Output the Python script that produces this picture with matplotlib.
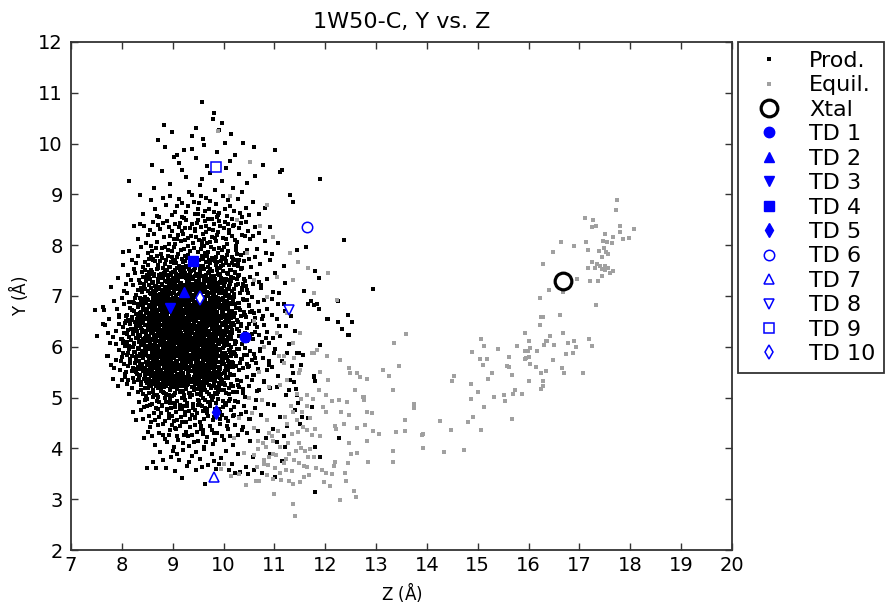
import numpy as np
import matplotlib
matplotlib.use("Agg")
import matplotlib.pyplot as plt

# ---------------- data ----------------
title = "1W50-C, Y vs. Z"
x_label = r"Z ($\AA$)"
y_label = r"Y ($\AA$)"
x_ticks = list(range(7, 21))
y_ticks = list(range(2, 13))

# Production frames (z, y) -- dense cloud, estimated point by point
PROD_POINTS = """
9.12,9.62 9.45,9.71 9.68,9.55 9.88,9.83 10.12,9.66 10.31,9.41 9.27,9.34 9.53,9.18 9.74,9.42 9.96,9.27
10.18,9.12 10.47,9.22 8.95,9.21 8.78,9.46 9.38,9.89 9.61,9.97 10.05,9.51 10.22,9.78 9.02,9.74 8.64,9.13
9.83,9.08 10.36,9.05 9.33,9.05 9.58,9.31 9.19,9.49 10.62,9.36 10.78,9.58 9.91,10.27 9.46,10.31 8.98,10.22 10.15,10.19
8.42,8.62 8.57,8.88 8.73,8.55 8.86,8.79 8.94,8.97 9.05,8.66 9.13,8.91 9.22,8.53 9.31,8.77 9.38,8.99
9.44,8.61 9.52,8.84 9.59,8.58 9.66,8.93 9.71,8.71 9.78,8.52 9.85,8.82 9.92,8.64 9.99,8.96 10.06,8.57
10.13,8.78 10.21,8.68 10.29,8.91 10.37,8.55 10.45,8.73 10.58,8.86 10.69,8.62 10.81,8.74 8.66,8.71 8.99,8.59
9.18,8.83 9.27,8.65 9.49,8.72 9.63,8.68 9.74,8.87 9.88,8.55 10.02,8.71 10.17,8.51 10.33,8.64 9.09,8.78
9.41,8.86 9.56,8.97 9.81,8.66 10.09,8.89 8.81,8.93 10.51,8.59
8.31,8.12 8.44,8.38 8.52,8.21 8.61,8.45 8.69,8.06 8.76,8.32 8.83,8.17 8.88,8.47 8.93,8.02 8.98,8.28
9.04,8.41 9.08,8.13 9.12,8.36 9.17,8.08 9.21,8.23 9.26,8.49 9.3,8.15 9.34,8.33 9.39,8.04 9.43,8.27
9.47,8.44 9.51,8.11 9.55,8.36 9.6,8.22 9.64,8.47 9.68,8.05 9.72,8.31 9.77,8.17 9.81,8.42 9.85,8.09
9.9,8.26 9.94,8.38 9.98,8.14 10.03,8.45 10.07,8.03 10.11,8.29 10.16,8.18 10.21,8.4 10.26,8.07 10.31,8.33
10.37,8.21 10.44,8.46 10.52,8.12 10.61,8.35 10.7,8.24 10.82,8.08 8.72,8.39 8.95,8.19 9.15,8.44 9.36,8.19
9.58,8.01 9.79,8.29 10.0,8.34 10.23,8.11 10.48,8.28 9.02,8.12 9.24,8.34 9.45,8.16 9.66,8.38 9.87,8.2
10.09,8.42 8.56,8.29 8.81,8.44 9.19,8.27 9.62,8.13 9.92,8.48 10.34,8.43 10.58,8.19 8.36,8.41 9.49,8.49 9.73,8.06
8.02,7.62 8.14,7.88 8.23,7.54 8.31,7.79 8.38,7.97 8.45,7.66 8.51,7.85 8.57,7.52 8.62,7.73 8.67,7.94
8.72,7.61 8.77,7.82 8.81,7.55 8.86,7.71 8.9,7.91 8.94,7.58 8.98,7.77 9.02,7.96 9.06,7.64 9.1,7.83
9.14,7.51 9.18,7.72 9.22,7.93 9.26,7.6 9.3,7.81 9.33,7.53 9.37,7.74 9.41,7.95 9.45,7.63 9.49,7.86
9.53,7.57 9.57,7.78 9.61,7.99 9.65,7.66 9.69,7.87 9.73,7.54 9.77,7.75 9.81,7.92 9.85,7.61 9.89,7.84
9.93,7.56 9.97,7.76 10.01,7.97 10.05,7.65 10.09,7.88 10.14,7.52 10.19,7.73 10.24,7.91 10.29,7.59 10.34,7.8
10.4,7.68 10.47,7.9 10.54,7.57 10.62,7.76 10.71,7.63 10.83,7.85 10.92,7.71 8.19,7.71 8.41,7.57 8.59,7.89
8.75,7.69 8.88,7.52 8.99,7.88 9.08,7.56 9.16,7.9 9.24,7.69 9.35,7.88 9.43,7.55 9.51,7.71 9.59,7.6
9.67,7.79 9.75,7.97 9.83,7.68 9.91,7.95 9.99,7.62 10.07,7.81 10.16,7.64 10.27,7.83 10.37,7.55 10.5,7.72
10.66,7.93 8.53,7.72 8.69,7.78 8.84,7.96 9.04,7.7 9.2,7.57 9.39,7.65 9.55,7.93 9.71,7.7 9.87,7.53
10.03,7.73 10.21,7.62 10.43,7.84 8.28,7.64 8.96,7.67 9.28,7.74 9.63,7.84 9.95,7.69 10.31,7.7
7.78,7.18 7.92,7.36 8.05,7.09 8.13,7.42 8.21,7.22 8.28,7.01 8.34,7.31 8.4,7.47 8.45,7.13 8.5,7.38
8.55,7.05 8.59,7.26 8.63,7.44 8.67,7.11 8.71,7.33 8.75,7.02 8.79,7.21 8.83,7.46 8.87,7.14 8.91,7.37
8.94,7.06 8.98,7.27 9.01,7.48 9.05,7.16 9.08,7.39 9.12,7.03 9.15,7.24 9.19,7.43 9.22,7.12 9.26,7.35
9.29,7.07 9.33,7.28 9.36,7.49 9.4,7.17 9.43,7.4 9.47,7.04 9.5,7.23 9.54,7.45 9.57,7.13 9.61,7.32
9.64,7.08 9.68,7.29 9.71,7.47 9.75,7.15 9.78,7.36 9.82,7.02 9.85,7.25 9.89,7.44 9.92,7.11 9.96,7.34
9.99,7.06 10.03,7.27 10.07,7.46 10.11,7.14 10.15,7.38 10.2,7.03 10.25,7.22 10.3,7.41 10.36,7.12 10.42,7.3
10.49,7.05 10.57,7.24 10.65,7.43 10.74,7.15 10.86,7.33 10.97,7.08 8.18,7.31 8.37,7.16 8.48,7.29 8.57,7.44
8.65,7.19 8.73,7.41 8.81,7.08 8.89,7.27 8.96,7.41 9.03,7.09 9.1,7.3 9.17,7.17 9.24,7.45 9.31,7.19
9.38,7.33 9.45,7.1 9.52,7.37 9.59,7.2 9.66,7.42 9.73,7.06 9.8,7.27 9.87,7.16 9.94,7.43 10.01,7.19
10.09,7.31 10.17,7.09 10.27,7.34 10.38,7.23 10.52,7.37 10.69,7.28 8.43,7.24 8.61,7.07 8.77,7.35 8.92,7.21
9.06,7.33 9.2,7.06 9.34,7.39 9.48,7.28 9.62,7.15 9.76,7.39 9.9,7.22 10.05,7.1 10.22,7.45 10.45,7.19
8.25,7.45 8.53,7.48 8.85,7.29 9.14,7.41 9.41,7.22 9.69,7.34 9.97,7.25 10.33,7.06 8.08,7.24 9.55,7.01 9.28,7.21 10.12,7.24
7.62,6.78 7.74,6.55 7.85,6.91 7.95,6.63 8.04,6.84 8.12,6.52 8.19,6.73 8.26,6.96 8.32,6.6 8.37,6.82
8.42,6.51 8.47,6.69 8.52,6.92 8.56,6.57 8.6,6.77 8.64,6.98 8.68,6.62 8.72,6.86 8.76,6.54 8.8,6.74
8.84,6.95 8.88,6.59 8.92,6.8 8.96,6.53 9.0,6.71 9.04,6.93 9.07,6.61 9.11,6.83 9.15,6.5 9.19,6.68
9.22,6.89 9.26,6.56 9.3,6.76 9.33,6.97 9.37,6.63 9.41,6.85 9.44,6.52 9.48,6.72 9.52,6.94 9.55,6.58
9.59,6.79 9.63,6.99 9.66,6.64 9.7,6.87 9.74,6.55 9.77,6.75 9.81,6.96 9.85,6.6 9.88,6.81 9.92,6.51
9.96,6.7 10.0,6.91 10.04,6.57 10.08,6.78 10.12,6.99 10.17,6.63 10.22,6.84 10.27,6.53 10.32,6.73 10.38,6.94
10.44,6.58 10.51,6.8 10.59,6.66 10.67,6.89 10.76,6.54 10.85,6.75 10.96,6.62 11.08,6.84 11.21,6.71 7.9,6.74
8.09,6.61 8.23,6.86 8.35,6.67 8.45,6.88 8.54,6.65 8.62,6.9 8.7,6.71 8.78,6.93 8.86,6.68 8.94,6.87
9.02,6.57 9.09,6.74 9.17,6.94 9.24,6.66 9.32,6.88 9.39,6.56 9.46,6.83 9.53,6.62 9.61,6.86 9.68,6.59
9.75,6.9 9.83,6.69 9.9,6.94 9.98,6.62 10.06,6.85 10.14,6.56 10.24,6.77 10.35,6.6 10.47,6.92 10.62,6.57
10.8,6.93 8.15,6.89 8.4,6.58 8.58,6.82 8.74,6.63 8.9,6.73 9.05,6.81 9.2,6.6 9.35,6.7 9.5,6.86
9.65,6.77 9.8,6.63 9.95,6.83 10.1,6.69 10.3,6.87 10.55,6.71 8.29,6.55 8.5,6.75 8.66,6.53 8.82,6.85
8.98,6.64 9.13,6.9 9.28,6.51 9.43,6.66 9.57,6.91 9.72,6.68 9.87,6.54 10.02,6.77 10.19,6.91 10.41,6.68
8.01,6.97 8.44,6.95 9.1,6.55 9.6,6.52 10.2,6.59 10.7,6.7 9.38,6.8 9.76,6.84
7.52,6.21 7.66,6.43 7.77,6.08 7.88,6.32 7.98,6.15 8.06,6.47 8.14,6.02 8.21,6.26 8.28,6.39 8.34,6.11
8.39,6.33 8.44,6.05 8.49,6.22 8.53,6.45 8.57,6.13 8.61,6.36 8.65,6.01 8.69,6.24 8.73,6.48 8.77,6.09
8.81,6.31 8.85,6.17 8.89,6.42 8.93,6.04 8.97,6.27 9.01,6.38 9.05,6.12 9.09,6.34 9.13,6.06 9.16,6.23
9.2,6.46 9.24,6.1 9.28,6.3 9.32,6.03 9.35,6.25 9.39,6.41 9.43,6.14 9.47,6.37 9.51,6.07 9.55,6.28
9.58,6.49 9.62,6.16 9.66,6.35 9.7,6.02 9.74,6.21 9.78,6.44 9.82,6.11 9.86,6.33 9.9,6.08 9.94,6.26
9.98,6.47 10.02,6.13 10.06,6.36 10.1,6.04 10.15,6.22 10.2,6.43 10.25,6.1 10.31,6.32 10.37,6.06 10.43,6.27
10.5,6.44 10.58,6.15 10.66,6.38 10.75,6.09 10.86,6.29 10.98,6.18 11.1,6.4 7.72,6.28 7.94,6.45 8.1,6.25
8.24,6.08 8.36,6.44 8.46,6.29 8.55,6.07 8.63,6.19 8.71,6.38 8.79,6.22 8.87,6.05 8.95,6.44 9.03,6.22
9.11,6.43 9.18,6.14 9.26,6.38 9.34,6.18 9.41,6.04 9.49,6.26 9.57,6.09 9.64,6.43 9.72,6.3 9.8,6.05
9.88,6.45 9.96,6.19 10.04,6.41 10.13,6.27 10.22,6.06 10.34,6.4 10.47,6.11 10.62,6.3 10.8,6.42 8.02,6.11
8.31,6.2 8.51,6.34 8.67,6.12 8.83,6.46 8.99,6.15 9.14,6.29 9.3,6.45 9.45,6.23 9.6,6.33 9.76,6.14
9.92,6.39 10.08,6.2 10.28,6.48 10.53,6.24 8.18,6.36 8.42,6.16 8.59,6.41 8.75,6.03 8.91,6.2 9.07,6.47
9.22,6.01 9.37,6.32 9.53,6.17 9.68,6.4 9.84,6.24 10.0,6.07 10.17,6.33 10.4,6.21 10.7,6.24 7.83,6.19
8.26,6.49 8.48,6.02 9.0,6.3 9.42,6.48 9.85,6.01 10.11,6.48 10.9,6.08 9.25,6.2 9.65,6.25 9.47,6.14
9.12,6.17 9.78,6.36 9.35,6.35
7.71,5.82 7.84,5.58 7.95,5.93 8.05,5.66 8.13,5.87 8.2,5.52 8.27,5.74 8.33,5.96 8.39,5.61 8.44,5.83
8.49,5.55 8.54,5.77 8.58,5.99 8.62,5.64 8.66,5.86 8.7,5.51 8.74,5.71 8.78,5.92 8.82,5.59 8.86,5.8
8.9,5.53 8.94,5.73 8.98,5.95 9.02,5.62 9.06,5.84 9.1,5.57 9.14,5.76 9.18,5.98 9.22,5.65 9.26,5.88
9.3,5.54 9.34,5.72 9.38,5.94 9.42,5.6 9.46,5.81 9.5,5.5 9.54,5.69 9.58,5.91 9.62,5.58 9.66,5.79
9.7,5.97 9.74,5.63 9.78,5.85 9.82,5.56 9.86,5.75 9.9,5.96 9.94,5.61 9.98,5.82 10.03,5.53 10.08,5.72
10.13,5.93 10.18,5.6 10.24,5.81 10.3,5.54 10.36,5.76 10.43,5.97 10.51,5.63 10.59,5.86 10.68,5.57 10.78,5.78
10.9,5.65 11.0,5.88 7.89,5.74 8.09,5.51 8.24,5.9 8.36,5.67 8.47,5.93 8.56,5.6 8.64,5.8 8.72,5.62
8.8,5.96 8.88,5.68 8.96,5.85 9.04,5.54 9.12,5.89 9.2,5.7 9.28,5.98 9.36,5.63 9.44,5.88 9.52,5.66
9.6,5.84 9.68,5.55 9.76,5.89 9.84,5.7 9.92,5.52 10.0,5.87 10.1,5.64 10.21,5.89 10.33,5.69 10.47,5.84
10.64,5.69 10.85,5.55 8.0,5.8 8.3,5.57 8.52,5.71 8.68,5.97 8.84,5.66 9.0,5.79 9.16,5.51 9.32,5.83
9.48,5.74 9.64,5.93 9.8,5.63 9.96,5.74 10.15,5.81 10.39,5.58 10.72,5.92 8.17,5.69 8.41,5.89 8.6,5.53
8.76,5.84 8.92,5.63 9.08,5.93 9.24,5.58 9.4,5.77 9.56,5.52 9.72,5.74 9.88,5.91 10.05,5.6 10.27,5.95
10.55,5.74 7.78,5.65 8.34,5.82 9.06,5.7 9.55,5.62 10.19,5.69 9.33,5.61 9.7,5.68 9.1,5.65 9.85,5.93 9.45,5.96
7.93,5.22 8.06,5.41 8.15,5.08 8.23,5.3 8.3,5.47 8.37,5.14 8.43,5.36 8.48,5.03 8.53,5.25 8.58,5.44
8.62,5.11 8.67,5.33 8.71,5.01 8.75,5.2 8.79,5.42 8.83,5.09 8.87,5.29 8.91,5.48 8.95,5.16 8.99,5.38
9.03,5.05 9.07,5.24 9.11,5.45 9.15,5.13 9.19,5.34 9.23,5.02 9.27,5.21 9.31,5.43 9.35,5.1 9.39,5.31
9.43,5.49 9.47,5.17 9.51,5.37 9.55,5.06 9.59,5.26 9.63,5.46 9.67,5.12 9.71,5.35 9.75,5.04 9.79,5.23
9.83,5.41 9.87,5.08 9.91,5.28 9.95,5.47 10.0,5.15 10.05,5.39 10.1,5.07 10.15,5.27 10.21,5.45 10.27,5.12
10.34,5.33 10.42,5.02 10.5,5.22 10.59,5.44 10.69,5.14 10.8,5.3 10.92,5.19 8.11,5.26 8.34,5.39 8.51,5.18
8.64,5.4 8.77,5.13 8.89,5.35 9.01,5.2 9.13,5.47 9.25,5.27 9.37,5.05 9.49,5.29 9.61,5.19 9.73,5.44
9.85,5.18 9.97,5.33 10.12,5.46 10.3,5.2 10.55,5.35 8.2,5.18 8.45,5.46 8.69,5.24 8.93,5.06 9.17,5.28
9.41,5.19 9.65,5.36 9.89,5.11 10.18,5.22 10.46,5.41 8.57,5.31 8.81,5.27 9.05,5.42 9.29,5.33 9.53,5.23
9.77,5.49 10.02,5.24 10.38,5.1 8.0,5.34 9.21,5.13 9.57,5.14 9.93,5.39
8.22,4.72 8.33,4.91 8.42,4.58 8.5,4.83 8.57,4.51 8.63,4.69 8.69,4.94 8.74,4.62 8.79,4.85 8.84,4.53
8.89,4.75 8.94,4.97 8.99,4.64 9.04,4.88 9.09,4.55 9.14,4.77 9.19,4.99 9.24,4.66 9.29,4.9 9.34,4.57
9.39,4.79 9.44,4.6 9.49,4.86 9.54,4.52 9.59,4.73 9.64,4.95 9.69,4.63 9.74,4.87 9.79,4.56 9.84,4.78
9.9,4.98 9.96,4.65 10.02,4.89 10.08,4.54 10.15,4.76 10.23,4.94 10.31,4.61 10.4,4.84 10.5,4.57 10.61,4.79
10.74,4.66 10.88,4.87 8.38,4.75 8.6,4.88 8.77,4.7 8.92,4.59 9.07,4.71 9.22,4.84 9.37,4.66 9.52,4.93
9.67,4.78 9.82,4.62 9.98,4.82 10.18,4.64 10.45,4.72 8.28,4.56 8.54,4.64 8.71,4.78 8.87,4.92 9.02,4.53
9.17,4.61 9.32,4.74 9.47,4.69 9.62,4.58 9.77,4.96 9.93,4.72 10.1,4.93 10.35,4.68 8.46,4.95 8.97,4.8
9.27,4.51 9.57,4.84 10.05,4.6 10.63,4.95
8.43,4.21 8.55,4.42 8.65,4.07 8.73,4.31 8.81,4.48 8.88,4.13 8.95,4.36 9.02,4.02 9.08,4.24 9.14,4.45
9.2,4.11 9.26,4.33 9.32,4.05 9.38,4.27 9.44,4.47 9.5,4.15 9.56,4.38 9.62,4.03 9.68,4.22 9.74,4.44
9.8,4.09 9.87,4.3 9.94,4.49 10.01,4.17 10.09,4.39 10.18,4.06 10.28,4.26 10.39,4.43 10.52,4.14 10.68,4.34
10.84,4.2 8.6,4.25 8.84,4.18 9.05,4.41 9.23,4.26 9.41,4.12 9.59,4.29 9.77,4.36 9.97,4.24 10.22,4.46
10.47,4.3 8.71,4.46 9.11,4.17 9.47,4.33 9.83,4.16 10.13,4.25 8.92,4.26 9.35,4.42 9.65,4.12
8.62,3.74 8.75,3.92 8.86,3.61 8.96,3.83 9.05,3.55 9.13,3.77 9.21,3.96 9.29,3.66 9.37,3.86 9.45,3.58
9.53,3.79 9.61,3.98 9.69,3.68 9.77,3.89 9.86,3.6 9.95,3.81 10.05,3.95 10.16,3.7 10.29,3.88 10.44,3.64
10.58,3.84 8.81,3.78 9.09,3.89 9.33,3.74 9.57,3.63 9.81,3.76 10.1,3.57 9.0,3.95 9.45,3.92 9.92,3.69
9.58,10.81 9.82,10.61 9.79,10.48 9.96,10.40 8.83,10.37 8.72,10.08 9.37,10.15 9.59,10.10 10.03,10.02 10.38,10.02
10.60,9.94 11.01,9.87 8.85,9.93 9.22,9.87 9.09,9.77 8.59,9.58 8.14,9.27 8.36,8.99 8.23,8.38 8.03,7.87
11.90,9.30 12.37,8.10 12.93,7.13 7.47,6.72 7.64,6.72 7.62,6.44 7.72,5.82 7.83,5.36 7.97,5.54 8.49,3.62
8.67,3.61 9.19,3.42 9.64,3.30 11.88,7.35 11.80,7.49 12.24,6.92 12.44,6.63 12.53,6.48 12.45,6.23 12.32,6.36
12.05,6.54 11.90,6.04 11.78,6.82 11.66,6.84 11.41,6.32 11.23,6.40 11.58,7.09 11.77,5.43 11.44,5.87 11.63,7.97
11.45,7.91 11.31,8.99 11.37,8.86 11.14,9.49 11.11,9.45
11.72,6.90 11.83,6.84 11.87,6.74 12.26,6.91 12.26,6.48 12.04,6.55 12.46,6.24 11.90,6.03 11.78,5.41 11.80,5.33
11.73,4.82 11.67,4.59 11.80,4.03 11.90,3.84 12.27,4.20 11.80,3.15 11.56,5.84 11.52,5.64 11.49,5.87 11.42,5.17
11.44,5.06 11.37,5.49 11.29,5.15 11.39,5.31 11.46,4.90 11.50,4.49 11.55,4.62 11.18,4.24 11.21,4.03 10.75,3.51
10.49,3.50 10.32,3.54 10.22,3.51 10.59,3.58 11.01,3.44
10.95,6.95 11.05,6.55 11.12,6.22 11.02,5.95 11.15,5.72 11.08,5.42 11.22,5.05 11.0,4.85 11.12,4.62 10.98,4.38
11.25,4.45 11.05,4.12 10.92,3.88 11.15,3.75 11.32,6.6 11.28,6.05 11.35,5.62 11.25,5.88 11.1,7.05 11.02,7.45
11.2,7.25 10.95,7.82 11.08,8.05 10.92,8.35 11.18,7.6 11.3,5.35 11.4,4.75 11.05,5.2 10.96,5.6 11.18,6.85
8.52,7.61 8.58,7.77 8.66,7.68 8.71,7.56 8.79,7.74 8.84,7.63 8.9,7.79 8.93,7.58 9.0,7.7 9.03,7.64
9.09,7.76 9.13,7.59 9.2,7.66 9.25,7.78 9.27,7.57 9.34,7.7 9.38,7.62 9.44,7.75 9.48,7.67 9.53,7.6
9.6,7.72 9.63,7.79 9.7,7.58 9.74,7.65 9.79,7.71 9.85,7.77 9.88,7.66 9.95,7.59 10.0,7.74 10.04,7.68
10.1,7.61 10.17,7.77 10.22,7.7 10.28,7.64 8.62,7.71
8.41,7.37 8.46,7.51 8.49,7.42 8.56,7.33 8.6,7.48 8.64,7.39 8.69,7.53 8.72,7.31 8.77,7.44 8.8,7.37
8.85,7.5 8.88,7.41 8.92,7.32 8.97,7.46 9.0,7.36 9.04,7.52 9.06,7.43 9.11,7.34 9.16,7.49 9.18,7.38
9.23,7.54 9.27,7.41 9.3,7.32 9.35,7.47 9.39,7.37 9.42,7.51 9.46,7.44 9.51,7.3 9.53,7.49 9.58,7.4
9.62,7.53 9.65,7.35 9.7,7.45 9.73,7.31 9.77,7.5 9.81,7.4 9.84,7.34 9.88,7.52 9.91,7.42 9.95,7.36
9.99,7.49 10.04,7.33 10.08,7.44 10.13,7.52 10.18,7.36 10.23,7.47 10.29,7.39 10.35,7.54 10.4,7.33 8.53,7.41
8.31,7.12 8.36,7.26 8.4,7.08 8.44,7.19 8.47,7.29 8.51,7.1 8.54,7.22 8.58,7.15 8.62,7.28 8.64,7.06
8.68,7.2 8.71,7.27 8.74,7.13 8.78,7.24 8.81,7.07 8.84,7.18 8.86,7.29 8.9,7.11 8.93,7.23 8.96,7.16
8.99,7.06 9.02,7.21 9.05,7.27 9.08,7.13 9.11,7.19 9.14,7.08 9.17,7.26 9.2,7.15 9.23,7.22 9.25,7.1
9.28,7.28 9.32,7.17 9.35,7.07 9.37,7.24 9.4,7.12 9.44,7.2 9.46,7.29 9.49,7.14 9.52,7.06 9.56,7.23
9.59,7.11 9.62,7.26 9.65,7.18 9.68,7.07 9.71,7.21 9.74,7.29 9.77,7.12 9.8,7.19 9.83,7.26 9.86,7.09
9.9,7.17 9.93,7.28 9.97,7.14 10.01,7.23 10.05,7.07 10.1,7.2 10.15,7.29 10.21,7.13 10.28,7.24 10.37,7.16
8.22,6.88 8.27,7.02 8.31,6.84 8.35,6.96 8.38,6.9 8.41,6.81 8.45,6.99 8.48,6.86 8.5,6.94 8.53,6.82
8.57,7.03 8.6,6.89 8.62,6.97 8.65,6.83 8.68,6.92 8.7,7.01 8.73,6.85 8.75,6.95 8.78,6.88 8.81,6.82
8.83,7.0 8.86,6.91 8.89,6.84 8.91,6.97 8.94,6.89 8.97,7.03 8.99,6.83 9.02,6.95 9.05,6.87 9.07,7.0
9.1,6.92 9.13,6.81 9.16,6.98 9.18,6.86 9.21,6.93 9.24,7.02 9.27,6.84 9.29,6.95 9.32,6.89 9.34,6.82
9.36,7.01 9.39,6.92 9.42,6.86 9.45,6.98 9.47,6.81 9.5,6.94 9.53,6.88 9.56,7.02 9.58,6.84 9.61,6.96
9.64,6.9 9.67,6.82 9.69,7.0 9.72,6.87 9.75,6.93 9.78,6.85 9.8,7.03 9.83,6.91 9.86,6.83 9.89,6.97
9.92,6.88 9.95,6.94 9.98,6.81 10.02,7.0 10.06,6.89 10.1,6.96 10.15,6.84 10.21,6.98 10.29,6.87 10.4,6.93 10.5,6.83
8.11,6.62 8.16,6.76 8.2,6.59 8.24,6.7 8.28,6.64 8.32,6.78 8.34,6.57 8.38,6.69 8.41,6.75 8.43,6.61
8.46,6.72 8.49,6.56 8.51,6.67 8.55,6.79 8.57,6.63 8.6,6.71 8.63,6.58 8.66,6.77 8.68,6.66 8.71,6.6
8.73,6.73 8.76,6.79 8.79,6.64 8.81,6.56 8.84,6.7 8.87,6.76 8.89,6.62 8.92,6.68 8.95,6.57 8.97,6.74
9.0,6.63 9.03,6.79 9.06,6.69 9.08,6.58 9.11,6.72 9.14,6.65 9.16,6.77 9.19,6.6 9.22,6.7 9.25,6.56
9.27,6.74 9.3,6.66 9.33,6.61 9.35,6.78 9.38,6.69 9.41,6.59 9.43,6.73 9.46,6.64 9.49,6.77 9.51,6.57
9.54,6.71 9.57,6.65 9.59,6.6 9.62,6.75 9.65,6.68 9.67,6.56 9.7,6.72 9.73,6.63 9.76,6.79 9.79,6.66
9.82,6.58 9.84,6.74 9.87,6.69 9.9,6.61 9.93,6.77 9.96,6.64 9.99,6.71 10.03,6.58 10.07,6.75 10.11,6.62
10.16,6.7 10.23,6.66 10.31,6.76 10.42,6.62 10.53,6.69
8.03,6.38 8.08,6.5 8.12,6.33 8.17,6.44 8.2,6.53 8.23,6.36 8.27,6.46 8.3,6.31 8.33,6.41 8.35,6.52
8.38,6.37 8.41,6.47 8.43,6.32 8.46,6.42 8.48,6.54 8.51,6.39 8.54,6.49 8.56,6.34 8.59,6.45 8.62,6.3
8.64,6.4 8.67,6.51 8.7,6.35 8.72,6.46 8.75,6.42 8.77,6.33 8.8,6.53 8.82,6.38 8.85,6.48 8.88,6.36
8.9,6.44 8.93,6.31 8.95,6.5 8.98,6.4 9.01,6.34 9.03,6.47 9.06,6.54 9.09,6.39 9.11,6.3 9.14,6.45
9.17,6.37 9.19,6.51 9.22,6.42 9.25,6.33 9.27,6.48 9.3,6.38 9.33,6.53 9.36,6.43 9.38,6.32 9.41,6.46
9.44,6.39 9.46,6.52 9.49,6.35 9.52,6.44 9.54,6.31 9.57,6.49 9.6,6.41 9.62,6.36 9.65,6.53 9.68,6.45
9.7,6.32 9.73,6.42 9.76,6.5 9.79,6.38 9.81,6.47 9.84,6.34 9.87,6.44 9.9,6.53 9.93,6.37 9.96,6.46
10.0,6.31 10.04,6.43 10.08,6.52 10.13,6.39 10.19,6.47 10.26,6.35 10.35,6.45 10.46,6.37 10.57,6.5
8.01,6.15 8.05,6.27 8.1,6.09 8.14,6.2 8.18,6.13 8.21,6.28 8.24,6.06 8.28,6.17 8.31,6.24 8.34,6.1
8.36,6.21 8.39,6.29 8.42,6.08 8.45,6.18 8.47,6.25 8.5,6.12 8.53,6.2 8.55,6.06 8.58,6.27 8.61,6.16
8.63,6.23 8.66,6.09 8.68,6.19 8.71,6.28 8.74,6.11 8.76,6.21 8.79,6.14 8.82,6.26 8.84,6.07 8.87,6.18
8.9,6.24 8.92,6.12 8.95,6.2 8.97,6.29 9.0,6.08 9.03,6.16 9.05,6.25 9.08,6.1 9.11,6.21 9.13,6.15
9.16,6.28 9.18,6.06 9.21,6.19 9.24,6.24 9.27,6.11 9.29,6.22 9.32,6.16 9.35,6.27 9.37,6.07 9.4,6.18
9.43,6.25 9.45,6.13 9.48,6.21 9.51,6.09 9.53,6.26 9.56,6.15 9.59,6.2 9.61,6.07 9.64,6.28 9.67,6.12
9.69,6.23 9.72,6.17 9.75,6.08 9.77,6.26 9.8,6.19 9.83,6.11 9.86,6.22 9.88,6.14 9.91,6.29 9.95,6.1
9.98,6.2 10.02,6.26 10.06,6.09 10.11,6.18 10.16,6.27 10.23,6.12 10.31,6.22 10.41,6.16 10.55,6.25
8.02,5.88 8.07,6.01 8.11,5.84 8.15,5.95 8.19,5.82 8.22,5.99 8.25,5.9 8.29,5.81 8.32,5.97 8.35,5.86
8.37,6.03 8.4,5.92 8.43,5.83 8.46,5.98 8.48,5.89 8.51,5.81 8.54,5.95 8.56,6.02 8.59,5.85 8.62,5.93
8.64,5.82 8.67,6.0 8.7,5.88 8.72,5.96 8.75,5.84 8.78,6.03 8.8,5.91 8.83,5.83 8.86,5.97 8.88,5.87
8.91,6.01 8.94,5.82 8.96,5.94 8.99,5.88 9.02,6.02 9.04,5.85 9.07,5.96 9.1,5.81 9.12,5.92 9.15,6.0
9.18,5.86 9.2,5.95 9.23,5.83 9.26,6.03 9.28,5.9 9.31,5.98 9.34,5.84 9.36,5.93 9.39,6.01 9.42,5.87
9.44,5.81 9.47,5.96 9.5,5.89 9.52,6.03 9.55,5.85 9.58,5.94 9.6,5.82 9.63,5.99 9.66,5.9 9.68,5.84
9.71,6.02 9.74,5.93 9.77,5.86 9.79,5.97 9.82,5.83 9.85,6.0 9.88,5.9 9.91,5.81 9.94,5.95 9.97,5.87
10.01,6.02 10.05,5.84 10.1,5.93 10.15,5.99 10.22,5.86 10.3,5.96 10.4,5.83 10.52,5.92
8.12,5.62 8.17,5.75 8.21,5.58 8.25,5.69 8.28,5.79 8.31,5.61 8.34,5.72 8.37,5.56 8.4,5.66 8.42,5.77
8.45,5.59 8.48,5.7 8.5,5.64 8.53,5.78 8.56,5.57 8.58,5.68 8.61,5.74 8.64,5.6 8.66,5.71 8.69,5.65
8.71,5.79 8.74,5.56 8.77,5.67 8.79,5.76 8.82,5.62 8.85,5.7 8.87,5.58 8.9,5.78 8.93,5.66 8.95,5.72
8.98,5.59 9.01,5.68 9.03,5.77 9.06,5.61 9.09,5.73 9.11,5.64 9.14,5.57 9.17,5.79 9.19,5.69 9.22,5.6
9.25,5.74 9.27,5.66 9.3,5.77 9.33,5.58 9.35,5.7 9.38,5.63 9.41,5.76 9.43,5.57 9.46,5.68 9.49,5.73
9.51,5.6 9.54,5.79 9.57,5.65 9.59,5.71 9.62,5.56 9.65,5.74 9.67,5.62 9.7,5.69 9.73,5.78 9.76,5.59
9.78,5.72 9.81,5.64 9.84,5.77 9.87,5.61 9.9,5.7 9.93,5.57 9.96,5.75 10.0,5.66 10.05,5.78 10.1,5.6
10.16,5.71 10.24,5.63 10.34,5.76 10.47,5.67
8.22,5.38 8.27,5.51 8.31,5.34 8.35,5.45 8.38,5.31 8.41,5.52 8.45,5.41 8.48,5.33 8.51,5.47 8.54,5.37
8.57,5.54 8.6,5.32 8.62,5.43 8.65,5.49 8.68,5.35 8.71,5.46 8.74,5.39 8.77,5.53 8.8,5.31 8.82,5.44
8.85,5.37 8.88,5.51 8.91,5.4 8.93,5.33 8.96,5.48 8.99,5.42 9.02,5.31 9.05,5.52 9.07,5.36 9.1,5.45
9.13,5.39 9.16,5.54 9.18,5.33 9.21,5.47 9.24,5.4 9.27,5.32 9.3,5.5 9.33,5.43 9.35,5.36 9.38,5.53
9.41,5.41 9.44,5.34 9.47,5.46 9.5,5.39 9.52,5.52 9.55,5.31 9.58,5.44 9.61,5.37 9.64,5.5 9.67,5.33
9.7,5.42 9.73,5.48 9.76,5.35 9.79,5.45 9.82,5.32 9.85,5.51 9.89,5.4 9.93,5.46 9.97,5.34 10.02,5.49
10.08,5.38 10.16,5.44 10.27,5.35
8.32,5.12 8.37,5.25 8.42,5.08 8.46,5.19 8.5,5.29 8.54,5.1 8.58,5.22 8.61,5.15 8.65,5.27 8.69,5.06
8.72,5.18 8.76,5.24 8.8,5.11 8.83,5.21 8.87,5.07 8.9,5.26 8.94,5.14 8.97,5.2 9.01,5.28 9.04,5.09
9.08,5.17 9.12,5.25 9.15,5.12 9.19,5.22 9.22,5.06 9.26,5.16 9.3,5.27 9.33,5.1 9.37,5.2 9.41,5.14
9.44,5.26 9.48,5.08 9.52,5.19 9.56,5.11 9.6,5.24 9.64,5.15 9.68,5.29 9.72,5.07 9.76,5.18 9.8,5.23
9.84,5.1 9.88,5.21 9.93,5.15 9.98,5.27 10.04,5.09 10.1,5.19 10.18,5.12 10.28,5.24 10.38,5.16 8.63,5.05
8.43,4.82 8.5,4.97 8.56,4.86 8.62,5.01 8.68,4.79 8.73,4.92 8.79,4.84 8.84,4.99 8.89,4.77 8.94,4.9
8.99,5.03 9.04,4.81 9.09,4.94 9.14,4.86 9.19,4.78 9.24,4.96 9.29,4.83 9.34,5.02 9.39,4.88 9.44,4.76
9.49,4.95 9.54,4.85 9.59,5.0 9.64,4.8 9.69,4.91 9.74,4.84 9.8,5.02 9.86,4.89 9.92,4.78 9.98,4.93
10.05,4.85 10.12,4.98 10.2,4.81 10.28,4.92 9.0,4.9
8.47,8.05 8.63,8.22 8.79,7.95 8.92,8.36 9.05,8.02 9.19,8.55 9.31,7.98 9.44,8.31 9.57,8.08 9.7,8.52
9.83,8.14 9.96,7.9 10.1,8.24 10.25,7.99 10.42,8.18 9.1,8.2 9.38,8.42 9.65,8.25 9.9,8.6 10.18,8.37
8.7,8.58 9.5,8.62 10.05,8.12 8.58,7.98 9.25,8.1
8.52,4.33 8.66,4.56 8.8,4.27 8.93,4.68 9.06,4.38 9.19,4.52 9.31,4.24 9.43,4.61 9.55,4.45 9.68,4.7
9.81,4.31 9.94,4.57 10.07,4.44 10.21,4.66 10.37,4.37 10.53,4.58 8.98,4.47 9.25,4.72 9.6,4.36 9.88,4.66
7.95,6.58 8.03,6.07 8.06,5.47 8.1,7.05 7.88,6.05 7.98,5.73 8.12,5.35 10.55,6.98 10.62,6.45 10.71,5.95
10.58,5.45 10.66,5.13 10.77,6.6 10.84,6.18 10.9,5.72 10.46,7.12 10.73,7.22 10.61,5.77 10.48,5.6 10.79,5.33
8.66,7.09 8.69,6.98 8.72,7.17 8.76,7.03 8.79,7.12 8.82,6.96 8.85,7.15 8.87,7.05 8.9,6.99 8.93,7.13
8.95,7.04 8.98,7.19 9.0,6.97 9.03,7.1 9.06,7.01 9.09,7.16 9.12,6.95 9.14,7.07 9.17,7.12 9.19,6.99
9.22,7.18 9.24,7.03 9.27,6.97 9.3,7.14 9.33,7.05 9.35,7.11 9.38,6.96 9.41,7.17 9.43,7.02 9.46,7.09
9.48,6.98 9.51,7.15 9.54,7.04 9.57,7.19 9.59,6.95 9.62,7.08 9.64,7.13 9.67,7.0 9.7,7.17 9.72,7.06
9.75,6.97 9.78,7.11 9.81,7.03 9.83,7.18 9.86,6.99 9.89,7.1 9.92,7.05 9.95,7.16 9.98,6.96 10.02,7.09
10.06,7.14 10.1,7.01
8.62,6.78 8.65,6.89 8.68,6.72 8.7,6.84 8.73,6.93 8.76,6.76 8.78,6.87 8.81,6.71 8.83,6.81 8.86,6.92
8.88,6.74 8.91,6.86 8.93,6.79 8.96,6.94 8.98,6.71 9.01,6.83 9.03,6.9 9.06,6.75 9.08,6.85 9.11,6.72
9.13,6.94 9.16,6.8 9.18,6.88 9.21,6.73 9.23,6.83 9.26,6.91 9.28,6.77 9.31,6.86 9.33,6.7 9.36,6.81
9.38,6.93 9.41,6.76 9.43,6.88 9.46,6.73 9.48,6.84 9.51,6.91 9.53,6.78 9.56,6.72 9.58,6.87 9.61,6.8
9.63,6.94 9.66,6.74 9.68,6.85 9.71,6.78 9.73,6.92 9.76,6.71 9.78,6.83 9.81,6.89 9.84,6.75 9.87,6.86
9.9,6.79 9.93,6.92 9.96,6.73 10.0,6.84 10.04,6.9 10.09,6.77 10.14,6.86
8.6,6.53 8.63,6.64 8.65,6.47 8.68,6.58 8.7,6.69 8.73,6.51 8.75,6.62 8.78,6.55 8.8,6.67 8.83,6.48
8.85,6.6 8.88,6.53 8.9,6.68 8.93,6.46 8.95,6.57 8.98,6.63 9.0,6.5 9.03,6.61 9.05,6.55 9.08,6.69
9.1,6.47 9.13,6.58 9.15,6.64 9.18,6.52 9.2,6.62 9.23,6.49 9.25,6.66 9.28,6.56 9.3,6.61 9.33,6.46
9.35,6.57 9.38,6.68 9.4,6.52 9.43,6.6 9.45,6.5 9.48,6.65 9.5,6.56 9.53,6.47 9.55,6.63 9.58,6.54
9.6,6.69 9.63,6.49 9.65,6.59 9.68,6.64 9.7,6.51 9.73,6.57 9.75,6.67 9.78,6.48 9.8,6.61 9.83,6.53
9.86,6.66 9.89,6.5 9.92,6.6 9.95,6.56 9.98,6.68 10.02,6.48 10.06,6.62 10.11,6.54 10.16,6.65
8.58,6.28 8.61,6.39 8.63,6.22 8.66,6.33 8.68,6.44 8.71,6.26 8.73,6.37 8.76,6.3 8.78,6.42 8.81,6.23
8.83,6.35 8.86,6.28 8.88,6.43 8.91,6.21 8.93,6.32 8.96,6.38 8.98,6.25 9.01,6.36 9.03,6.3 9.06,6.44
9.08,6.22 9.11,6.33 9.13,6.39 9.16,6.27 9.18,6.37 9.21,6.24 9.23,6.41 9.26,6.31 9.28,6.36 9.31,6.21
9.33,6.32 9.36,6.43 9.38,6.27 9.41,6.35 9.43,6.25 9.46,6.4 9.48,6.31 9.51,6.22 9.53,6.38 9.56,6.29
9.58,6.44 9.61,6.24 9.63,6.34 9.66,6.39 9.68,6.26 9.71,6.32 9.73,6.42 9.76,6.23 9.78,6.36 9.81,6.28
9.84,6.41 9.87,6.25 9.9,6.35 9.93,6.31 9.96,6.43 10.0,6.23 10.04,6.37 10.09,6.29 10.15,6.4
8.57,6.03 8.6,6.14 8.62,5.97 8.65,6.08 8.67,6.19 8.7,6.01 8.72,6.12 8.75,6.05 8.77,6.17 8.8,5.98
8.82,6.1 8.85,6.03 8.87,6.18 8.9,5.96 8.92,6.07 8.95,6.13 8.97,6.0 9.0,6.11 9.02,6.05 9.05,6.19
9.07,5.97 9.1,6.08 9.12,6.14 9.15,6.02 9.17,6.12 9.2,5.99 9.22,6.16 9.25,6.06 9.27,6.11 9.3,5.96
9.32,6.07 9.35,6.18 9.37,6.02 9.4,6.1 9.42,6.0 9.45,6.15 9.47,6.06 9.5,5.97 9.52,6.13 9.55,6.04
9.57,6.19 9.6,5.99 9.62,6.09 9.65,6.14 9.67,6.01 9.7,6.07 9.72,6.17 9.75,5.98 9.77,6.11 9.8,6.03
9.83,6.16 9.86,6.0 9.89,6.1 9.92,6.06 9.95,6.18 9.99,5.98 10.03,6.12 10.08,6.04 10.14,6.15
8.56,5.78 8.59,5.89 8.61,5.72 8.64,5.83 8.66,5.94 8.69,5.76 8.71,5.87 8.74,5.8 8.76,5.92 8.79,5.73
8.81,5.85 8.84,5.78 8.86,5.93 8.89,5.71 8.91,5.82 8.94,5.88 8.96,5.75 8.99,5.86 9.01,5.8 9.04,5.94
9.06,5.72 9.09,5.83 9.11,5.89 9.14,5.77 9.16,5.87 9.19,5.74 9.21,5.91 9.24,5.81 9.26,5.86 9.29,5.71
9.31,5.82 9.34,5.93 9.36,5.77 9.39,5.85 9.41,5.75 9.44,5.9 9.46,5.81 9.49,5.72 9.51,5.88 9.54,5.79
9.56,5.94 9.59,5.74 9.61,5.84 9.64,5.89 9.66,5.76 9.69,5.82 9.71,5.92 9.74,5.73 9.76,5.86 9.79,5.78
9.82,5.91 9.85,5.75 9.88,5.85 9.91,5.81 9.94,5.93 9.98,5.73 10.02,5.87 10.07,5.79 10.13,5.9
8.58,5.53 8.61,5.64 8.63,5.47 8.66,5.58 8.68,5.69 8.71,5.51 8.73,5.62 8.76,5.55 8.78,5.67 8.81,5.48
8.83,5.6 8.86,5.53 8.88,5.68 8.91,5.46 8.93,5.57 8.96,5.63 8.98,5.5 9.01,5.61 9.03,5.55 9.06,5.69
9.08,5.47 9.11,5.58 9.13,5.64 9.16,5.52 9.18,5.62 9.21,5.49 9.23,5.66 9.26,5.56 9.28,5.61 9.31,5.46
9.33,5.57 9.36,5.68 9.38,5.52 9.41,5.6 9.43,5.5 9.46,5.65 9.48,5.56 9.51,5.47 9.53,5.63 9.56,5.54
9.58,5.69 9.61,5.49 9.63,5.59 9.66,5.64 9.68,5.51 9.71,5.57 9.73,5.67 9.76,5.48 9.78,5.61 9.81,5.53
9.84,5.66 9.87,5.5 9.9,5.6 9.93,5.56 9.96,5.68 10.0,5.48 10.04,5.62 10.09,5.54
8.62,5.28 8.65,5.39 8.68,5.22 8.71,5.33 8.73,5.44 8.76,5.26 8.79,5.37 8.81,5.3 8.84,5.42 8.87,5.23
8.89,5.35 8.92,5.28 8.95,5.43 8.97,5.21 9.0,5.32 9.03,5.38 9.05,5.25 9.08,5.36 9.11,5.3 9.13,5.44
9.16,5.22 9.19,5.33 9.21,5.39 9.24,5.27 9.27,5.37 9.29,5.24 9.32,5.41 9.35,5.31 9.37,5.36 9.4,5.21
9.43,5.32 9.45,5.43 9.48,5.27 9.51,5.35 9.53,5.25 9.56,5.4 9.59,5.31 9.61,5.22 9.64,5.38 9.67,5.29
9.69,5.44 9.72,5.24 9.75,5.34 9.78,5.39 9.81,5.26 9.84,5.32 9.87,5.42 9.91,5.23 9.95,5.36 10.0,5.28
10.05,5.41
"""

# Equilibration frames (z, y)
EQUIL_POINTS = """
17.73,8.88 17.71,8.69 17.10,8.54 17.27,8.49 17.32,8.38 17.25,8.36 17.80,8.38 18.07,8.31 17.50,8.22 17.80,8.25
17.66,8.17 17.85,8.12 17.98,8.15 17.46,8.08 17.55,8.06 17.64,8.04 16.64,8.06 16.89,7.99 17.12,8.06 17.16,7.90
17.39,7.89 17.48,7.94 17.53,7.87 17.57,7.83 16.47,7.86 17.44,7.76 17.24,7.66 17.34,7.63 17.40,7.59 17.51,7.60
17.16,7.56 17.30,7.56 17.44,7.54 17.50,7.51 17.57,7.56 17.66,7.50 17.61,7.45 17.44,7.40 16.28,7.63 16.96,7.33
17.21,7.30 17.37,7.30 16.41,7.12 16.68,7.07 16.23,6.97 17.32,6.83 16.24,6.59 16.28,6.59 16.61,6.63 16.23,6.42
16.68,6.28 15.92,6.27 16.43,6.22 15.06,6.15 15.13,6.02 16.01,6.11 16.34,6.11 16.37,6.11 16.49,6.04 16.77,6.08
16.89,6.12 17.19,6.15 17.25,6.02 14.89,5.90 15.39,5.95 15.78,6.02 16.03,5.98 15.92,5.92 15.98,5.92 16.16,5.92
16.30,6.04 16.93,5.99 16.73,5.86 16.88,5.88 15.05,5.75 15.19,5.75 15.61,5.80 15.92,5.76 15.95,5.77 16.00,5.79
16.47,5.74 15.11,5.65 15.57,5.63 15.61,5.61 16.03,5.67 16.14,5.61 16.25,5.49 16.35,5.53 16.66,5.59 16.70,5.49
17.07,5.48 15.28,5.48 14.54,5.42 14.50,5.33 15.21,5.37 15.67,5.44 16.01,5.33 16.28,5.33 14.87,5.27 15.00,5.12
15.74,5.15 15.87,5.07 15.52,5.06 15.70,5.08 15.31,5.01 15.54,4.93 16.24,5.17 16.28,5.23 14.87,4.98 15.12,4.81
14.91,4.62 14.80,4.51 14.26,4.54 14.47,4.36 15.07,4.36 15.68,4.58 13.93,4.28 13.92,4.00 14.34,3.92 14.73,3.97
13.58,6.25 13.35,6.08 13.46,5.63 13.14,5.55 13.25,5.43 13.75,4.87 13.75,4.79 13.34,5.15 13.57,4.56 13.90,4.27
13.56,4.34 13.34,3.94 13.33,3.74 13.39,4.33 13.06,4.28 12.94,4.34 12.91,4.69 12.83,4.71 12.76,5.02 12.76,4.95
12.58,5.15 12.47,5.58 12.63,5.49 12.82,5.37 12.42,4.92 12.47,4.66 12.27,4.95 12.31,4.71 12.13,4.93 12.01,5.06
11.88,5.15 11.95,4.82 12.01,4.71 12.19,4.45 12.36,4.49 12.22,4.38 12.62,4.41 12.79,4.47 12.83,4.15 12.85,3.74
12.63,3.91 12.46,4.11 12.51,3.88 12.45,3.72 12.39,3.51 12.41,3.36 12.20,3.74 12.18,3.65 12.14,3.49 12.01,3.51
11.97,3.33 12.09,3.26 11.93,3.57 11.82,3.61 11.77,3.84 11.66,3.84 11.70,3.99 11.61,3.94 11.52,4.01 11.48,4.10
11.42,3.94 11.38,3.78 11.29,3.88 11.23,3.80 11.18,3.71 11.04,3.87 10.98,3.88 10.90,3.84 10.80,3.77 10.88,3.68
11.01,3.61 11.11,3.51 11.23,3.57 11.35,3.56 11.48,3.71 11.58,3.66 11.65,3.64 11.69,3.48 11.58,3.44 11.50,3.34
11.36,3.29 11.29,3.35 11.13,3.38 10.97,3.39 10.85,3.48 10.70,3.36 10.64,3.35 10.66,3.64 10.59,3.87 10.83,4.03
10.97,4.15 11.11,4.03 11.27,4.10 11.34,4.28 11.46,4.33 11.57,4.43 11.65,4.36 11.80,4.39 11.90,4.24 11.74,4.26
11.44,4.56 11.71,4.59 11.54,4.71 11.65,4.84 11.76,4.97 11.52,4.97 11.33,4.83 11.37,4.72 11.21,4.62 11.25,4.49
11.08,4.35 10.95,4.24 10.77,4.10 10.68,3.99 11.37,2.91 11.41,2.67 11.00,3.10 12.30,2.98 12.57,3.17 12.60,3.04
11.11,5.25 11.24,5.35 11.44,5.08 11.64,5.05 11.90,5.50 12.06,5.35 11.83,5.94 11.73,5.87 11.39,5.77 11.10,5.81
11.18,5.69 11.48,5.48
9.90,10.24 10.52,9.64 10.85,8.79 11.31,7.84 11.47,7.66 11.67,7.56 12.06,7.46 12.24,6.92 11.77,7.05 11.37,7.32
11.05,7.38 10.98,8.17 10.72,8.37 10.46,7.84 10.13,8.96 10.26,8.50 10.59,7.32 10.85,6.99 11.24,6.66 11.50,6.27
11.77,5.87 12.03,5.81 12.29,5.74 12.49,5.48 12.68,5.41 12.75,5.02 11.37,6.07 11.05,6.27 11.18,5.81 11.50,5.54
10.6,6.5 10.8,6.0 10.7,5.5 10.9,5.2 10.5,5.0 10.3,4.6 10.6,4.4 10.2,4.2 10.4,3.9 10.0,3.7
10.3,3.5 10.45,3.28 10.15,3.45 9.95,3.6 10.55,4.7 10.75,4.95 10.85,4.55 10.68,4.15 10.9,4.3 10.8,3.7
"""

# Crystal structure position
xtal_z = [16.67]
xtal_y = [7.30]

# Representative structures TD 1 .. TD 10
td_labels = ["TD 1", "TD 2", "TD 3", "TD 4", "TD 5",
             "TD 6", "TD 7", "TD 8", "TD 9", "TD 10"]
td_z = [10.42, 9.22, 8.95, 9.39, 9.86, 11.64, 9.81, 11.29, 9.86, 9.54]
td_y = [6.19, 7.08, 6.76, 7.68, 4.71, 8.36, 3.43, 6.72, 9.53, 6.97]


def parse_points(text):
    arr = np.array([p.split(",") for p in text.split()], dtype=float)
    return arr[:, 0], arr[:, 1]


prod_z, prod_y = parse_points(PROD_POINTS)
equil_z, equil_y = parse_points(EQUIL_POINTS)

# ---------------- styling ----------------
plt.rcParams["font.family"] = ["DejaVu Sans"]
plt.rcParams["mathtext.default"] = "regular"

fig = plt.figure(figsize=(8.87, 6.03), dpi=100)
W, H = 887.0, 603.0
ax = fig.add_axes([71 / W, 1 - 550 / H, (732 - 71) / W, (550 - 42) / H])

ax.plot(prod_z, prod_y, linestyle="none", marker="s", markersize=2.6,
        markeredgewidth=0, color="black", label="Prod.")
ax.plot(equil_z, equil_y, linestyle="none", marker="s", markersize=2.3,
        markeredgewidth=0, color="#a0a0a0", label="Equil.")
ax.plot(xtal_z, xtal_y, linestyle="none", marker="o", markersize=12,
        markerfacecolor="white", markeredgecolor="black",
        markeredgewidth=2.3, label="Xtal")

td_markers = ["o", "^", "v", "s", "d", "o", "^", "v", "s", "d"]
for i, lab in enumerate(td_labels):
    filled = i < 5
    ax.plot([td_z[i]], [td_y[i]], linestyle="none", marker=td_markers[i],
            markersize=7.5,
            markerfacecolor="blue" if filled else "white",
            markeredgecolor="blue", markeredgewidth=1.0 if filled else 1.1,
            label=lab)

ax.set_xlim(7, 20)
ax.set_ylim(2, 12)
ax.set_xticks(x_ticks)
ax.set_yticks(y_ticks)
ax.tick_params(direction="in", top=True, right=True, length=5, width=1,
               labelsize=14, color="#333333")
ax.tick_params(axis="x", pad=4)
ax.tick_params(axis="y", pad=6)
for sp in ax.spines.values():
    sp.set_linewidth(1.3)
    sp.set_color("#333333")

ax.set_title(title, fontsize=16, pad=10)
ax.set_xlabel(x_label, fontsize=12, labelpad=4)
ax.set_ylabel(y_label, fontsize=12, labelpad=6)

leg = ax.legend(loc="upper left", bbox_to_anchor=(738 / W, 1 - 42 / H),
                bbox_transform=fig.transFigure, borderaxespad=0,
                numpoints=1, fontsize=16, labelspacing=0.2,
                handlelength=2.0, handletextpad=0.8, borderpad=0.4,
                fancybox=False, framealpha=1, markerscale=1.0)
leg.get_frame().set_edgecolor("#333333")
leg.get_frame().set_linewidth(1.3)

fig.savefig("out.png", dpi=100)
